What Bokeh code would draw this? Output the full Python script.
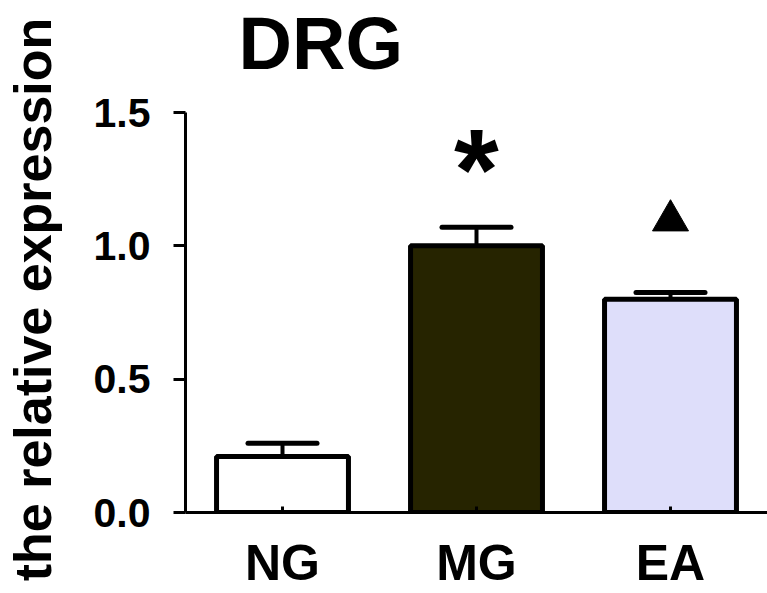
from bokeh.plotting import figure
from bokeh.models import ColumnDataSource, Range1d, FactorRange, FixedTicker, Whisker, TeeHead
from bokeh.core.properties import value
from bokeh.embed import file_html
from bokeh.resources import INLINE

# data
categories = ["NG", "MG", "EA"]
means = [0.21, 1.00, 0.80]
errors = [0.05, 0.07, 0.025]
fill_colors = ["#ffffff", "#262400", "#dedefa"]
y_ticks = [0.0, 0.5, 1.0, 1.5]
y_tick_labels = ["0.0", "0.5", "1.0", "1.5"]
star_cats = ["MG"]
triangle_cats = ["EA"]
title_text = "DRG"
y_label = "the relative expression"

FONT = "Liberation Sans"

# layout (pixels)
FRAME_TOP, AXIS_TOP, AXIS_ZERO = 86, 112, 512
y_axis_max = y_ticks[-1]
y_end = y_axis_max * (AXIS_ZERO - FRAME_TOP) / (AXIS_ZERO - AXIS_TOP)

upper = [m + e for m, e in zip(means, errors)]
src = ColumnDataSource(dict(cats=categories, vals=means, upper=upper, color=fill_colors))

p = figure(width=767, height=593, x_range=FactorRange(*categories, range_padding=0),
           y_range=Range1d(0, y_end), output_backend="svg", toolbar_location=None,
           min_border_left=183, min_border_top=FRAME_TOP, min_border_bottom=593 - AXIS_ZERO,
           min_border_right=0)

p.vbar(x="cats", top="vals", width=0.68, bottom=0, source=src, fill_color="color",
       line_color="black", line_width=5)

w = Whisker(source=src, base="cats", upper="upper", lower="vals", dimension="height",
            line_width=4, line_color="black",
            upper_head=TeeHead(size=69, line_width=5, line_color="black", line_cap="round"),
            lower_head=None)
p.add_layout(w)

# significance markers
idx = {c: i for i, c in enumerate(categories)}
star_y = [upper[idx[c]] + 0.22 for c in star_cats]
p.text(x=star_cats, y=star_y, text=["*"] * len(star_cats), text_align="center",
       text_baseline="middle", text_font=value(FONT), text_font_style="bold",
       text_font_size="115px", text_color="black")
tri_y = [upper[idx[c]] + 0.27 for c in triangle_cats]
p.scatter(x=triangle_cats, y=tri_y, marker="triangle", size=36, fill_color="black", line_color="black")

# title
p.title.text = title_text
p.title.text_font = FONT
p.title.text_font_size = "74px"
p.title.text_font_style = "bold"
p.title.text_color = "black"
p.title.align = "left"
p.title.vertical_align = "top"
p.title.offset = 53
p.title.standoff = 0

# axes
p.grid.visible = False
p.outline_line_color = None
p.background_fill_color = "white"

ya = p.yaxis[0]
ya.ticker = FixedTicker(ticks=y_ticks)
ya.bounds = (0, y_axis_max)
ya.major_label_overrides = {t: l for t, l in zip(y_ticks, y_tick_labels)}
ya.minor_tick_line_color = None
ya.major_tick_out = 12
ya.major_tick_in = 0
ya.major_tick_line_width = 3
ya.axis_line_width = 3
ya.major_label_standoff = 23
ya.major_label_text_font = FONT
ya.major_label_text_font_style = "bold"
ya.major_label_text_font_size = "41px"
ya.major_label_text_color = "black"
ya.axis_label = y_label
ya.axis_label_text_font = FONT
ya.axis_label_text_font_style = "bold"
ya.axis_label_text_font_size = "52px"
ya.axis_label_text_color = "black"
ya.axis_label_standoff = 29

xa = p.xaxis[0]
xa.major_tick_in = 6
xa.major_tick_out = 0
xa.major_tick_line_width = 3
xa.axis_line_width = 3
xa.major_label_standoff = 22
xa.major_label_text_font = FONT
xa.major_label_text_font_style = "bold"
xa.major_label_text_font_size = "50px"
xa.major_label_text_color = "black"

open("out.html", "w").write(file_html(p, INLINE))
